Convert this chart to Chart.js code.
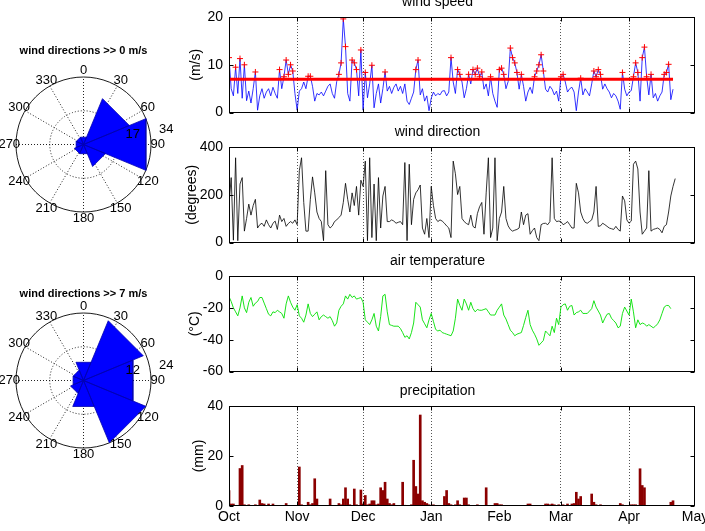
<!DOCTYPE html>
<html>
<head>
<meta charset="utf-8">
<script src="https://cdn.jsdelivr.net/npm/chart.js@4.4.1/dist/chart.umd.min.js"></script>
<style>
  html, body { margin: 0; padding: 0; background: #fff; overflow: hidden; width: 705px; height: 531px; }
  body { position: relative; }
  canvas { position: absolute; }
</style>
</head>
<body>
<canvas id="rose1" width="261" height="261" style="left:-47px;top:14px"></canvas>
<canvas id="rose2" width="261" height="261" style="left:-47px;top:250px"></canvas>
<canvas id="speed" width="545" height="135" style="left:180px;top:-8px"></canvas>
<canvas id="dir" width="545" height="135" style="left:180px;top:122px"></canvas>
<canvas id="temp" width="545" height="135" style="left:180px;top:251px"></canvas>
<canvas id="precip" width="545" height="151" style="left:180px;top:381px"></canvas>
<script>
// x axis: days since 1 Oct
const monthStarts = [0, 31, 61, 92, 123, 151, 182, 212];
const monthNames = ['Oct', 'Nov', 'Dec', 'Jan', 'Feb', 'Mar', 'Apr', 'May'];
const gridMonths = [31, 61, 92, 151, 182];

// daily values, index = day since 1 Oct
const speed = [
  11.5, 5, 3.5, 9.5, 4, 11.3, 3, 10, 2.5, 4.5,
  2, 5, 8.5, 0.5, 3.5, 5, 3, 4.3, 5, 3.5,
  5.3, 4, 3, 9, 5, 7.5, 11, 8, 10, 8.7,
  4, 0.5, 4.5, 5, 6.4, 5, 7.6, 7.6, 5.5, 2.4,
  4, 3.7, 4.3, 3.5, 4.5, 5.5, 6, 4, 3, 6.5,
  8, 10.4, 19.6, 13.8, 4, 2.4, 11, 10.4, 9, 3.5,
  13.1, 0.5, 8.4, 3.1, 6, 9.9, 1, 4, 6, 2,
  5, 8.5, 4.5, 5.5, 4, 5.3, 6, 4.5, 5.5, 4,
  6, 2.4, 1.7, 3, 4.3, 9, 11, 3.7, 5, 2.4,
  3.5, 0.4, 3, 4.3, 3.5, 4, 3.7, 4.5, 4.6, 3.5,
  4.3, 11.5, 6.4, 4, 9, 8, 6.4, 3.1, 5, 8,
  6, 9, 8, 9.3, 7.5, 8.5, 4.9, 6, 3.5, 7.5,
  4, 2.4, 1.1, 9, 9.3, 8, 5, 6.5, 13.5, 11.5,
  10.4, 8.4, 4.9, 8, 5.5, 2.4, 4.3, 5.3, 4, 7.5,
  8.7, 10, 12.1, 8.7, 4.9, 4.3, 5.5, 4.9, 3.7, 4.5,
  2.4, 7.5, 8, 6.4, 4.3, 5, 5.3, 4.3, 0.4, 4.3,
  7.2, 3.7, 5, 4.3, 3.5, 6, 8.7, 7.5, 9, 8,
  4.9, 6, 5, 4.3, 3.1, 4, 3.5, 2.4, 0.7, 8.4,
  4.9, 3.5, 4.3, 4.6, 7.5, 10.4, 8.4, 2.4, 11.5, 13.7,
  7.5, 3.7, 8, 3.1, 4, 2.4, 3.5, 4.3, 8, 8.4,
  10.1, 2.7, 4.9
];
const speedThreshold = 7;

const direction = [
  162, 272, 10, 355, 8, 245, 272, 48, 101, 161,
  115, 155, 181, 61, 75, 81, 68, 95, 75, 61,
  81, 90, 55, 115, 88, 101, 68, 80, 88, 81,
  95, 75, 301, 355, 168, 48, 48, 181, 275, 208,
  128, 101, 88, 8, 301, 75, 61, 70, 88, 95,
  105, 115, 168, 248, 181, 128, 208, 155, 235, 115,
  261, 235, 341, 8, 355, 21, 245, 8, 272, 61,
  195, 235, 88, 88, 95, 90, 81, 85, 88, 75,
  335, 8, 328, 75, 181, 208, 221, 241, 61, 35,
  101, 21, 235, 155, 101, 88, 95, 90, 81, 70,
  61, 21, 341, 288, 201, 235, 101, 88, 80, 75,
  115, 68, 61, 121, 150, 168, 35, 208, 355, 21,
  61, 355, 8, 101, 128, 235, 101, 70, 55, 48,
  52, 55, 61, 128, 75, 115, 121, 35, 50, 61,
  21, 8, 75, 80, 81, 75, 88, 355, 101, 88,
  90, 88, 75, 80, 88, 75, 61, 61, 248, 208,
  128, 101, 85, 81, 88, 95, 128, 235, 68, 70,
  81, 75, 68, 61, 58, 55, 68, 55, 48, 195,
  175, 95, 81, 90, 328, 341, 308, 128, 35, 48,
  61, 301, 48, 55, 58, 61, 55, 41, 68, 75,
  128, 195, 235, 268
];

const airTemp = [
  -13, -16, -20, -22.5, -25, -20, -12.5, -20, -23, -16.5,
  -13.5, -19, -17, -16, -13.5, -13.5, -17, -20.5, -24, -25,
  -22.5, -23, -21.5, -22.5, -23.5, -26.5, -17.5, -12.5, -16.5, -19.5,
  -21.5, -18, -25, -26.5, -29, -24.5, -17.5, -23.5, -25.5, -24,
  -22.5, -27.5, -25.5, -24.5, -25.5, -26.5, -25.5, -28, -31.5, -29.5,
  -21.5, -19, -17.5, -12.5, -14.5, -11.5, -13.5, -12.5, -14.5, -14,
  -13.5, -16.5, -27.5, -29, -30.5, -27.5, -23.5, -31.5, -34.5, -25.5,
  -12.5, -11.5, -22.5, -30.5, -31, -31.5, -31.5, -31.5, -33, -35.5,
  -38.5, -37.5, -39.5, -35.5, -29.5, -16.5, -18, -19.5, -27.5, -30,
  -32.5, -27.5, -23.5, -28.5, -33.5, -34.5, -34, -35.5, -36, -36.5,
  -37, -37.5, -34.5, -26.5, -14.5, -18.5, -21.5, -14.5, -17.5, -21.5,
  -16.5, -20.5, -22.5, -21, -21.5, -21.5, -21, -20.5, -22.5, -24.5,
  -24.5, -24.5, -21.5, -19.5, -17.5, -24.5, -27, -30.5, -34, -35.5,
  -37.5, -36.5, -36, -35.5, -31, -26, -21.5, -30.5, -34, -36.5,
  -39.5, -43.5, -42, -40.5, -34.5, -36, -37.5, -31.5, -35.5, -26.5,
  -30.5, -19.5, -18, -17.5, -21.5, -19, -18.5, -24.5, -23, -22.5,
  -21.5, -23.5, -23.5, -23.5, -22, -20.5, -15.5, -19.5, -22, -24.5,
  -29.5, -26.5, -24, -23.5, -26.5, -28, -29.5, -32.5, -31.5, -23.5,
  -19.5, -22, -24.5, -14.5, -22.5, -32.5, -27.5, -30.5, -29.5, -30,
  -31.5, -30.5, -31.5, -32.5, -31.5, -30, -27.5, -23.5, -19.5, -18.5,
  -18.5, -20.5
];

const precipitation = [
  6.2, 0.8, 0.8, 0, 0, 15, 16.2, 0.5, 0, 0.5,
  0, 0, 0.5, 0, 2.4, 1, 0.8, 0, 0.8, 0,
  0.8, 0, 0, 0, 0, 0, 1, 0, 0, 0,
  0, 0, 15.6, 0.5, 0, 0, 1.5, 0.5, 1, 10.9,
  2.8, 0, 0, 0, 0, 0, 2.8, 0, 0, 0,
  1, 0.5, 2.8, 7.3, 2.8, 0.5, 0, 6.8, 0.5, 0,
  6.4, 0.8, 4.2, 0.5, 0.8, 2.1, 2.1, 0.5, 0.8, 7.3,
  6.2, 9.5, 2.8, 1, 0.5, 1, 0, 0, 0, 9.5,
  0.3, 0, 0, 0.5, 18.3, 7.8, 4.8, 36.4, 2.1, 1.5,
  1, 0.5, 0, 0.5, 0, 0, 0, 0, 3.8, 6.2,
  1, 0.5, 0, 0.5, 2.1, 0.5, 0, 3.2, 3.2, 0.5,
  0, 0, 0, 0.5, 0, 0, 0, 7.3, 0, 0,
  0, 1, 1, 0.5, 0.5, 0, 0, 0, 0, 0,
  0, 0, 0, 0, 0, 0, 0.8, 0.8, 0, 0,
  0, 0, 0, 0, 0.8, 0.8, 0.5, 0.8, 0.5, 0,
  0.5, 0, 0.5, 0, 0.8, 0, 0.8, 1, 5.5, 2.8,
  3.8, 0, 0, 0, 0, 4.8, 1.5, 0.5, 0, 0.5,
  0, 0, 0, 0, 0, 0, 0, 0, 1, 0.5,
  0, 0, 0, 0.5, 0.5, 0.5, 0, 14.9, 8.2, 7.3,
  0, 0, 0, 0, 0, 0, 0, 0, 0, 0,
  0, 1.5, 2.1, 0
];

// wind roses: 8 sectors, centre bearing in degrees clockwise from north
const roseCentres = [0, 45, 90, 135, 180, 225, 270, 315];
const roseHalfWidth = 22.5;
const roseAll = [4, 25, 34, 12, 5, 5, 4, 4];
const roseStrong = [7, 23, 19, 24, 10, 5, 4, 4];
const roseRingsAll = [17, 34];
const roseRingsStrong = [12, 24];
const roseAngles = [0, 30, 60, 90, 120, 150, 180, 210, 240, 270, 300, 330];

const FONT = '"Liberation Sans", Arial, Helvetica, sans-serif';
Chart.defaults.font.family = FONT;
Chart.defaults.font.size = 14;
Chart.defaults.color = '#000';
Chart.defaults.animation = false;
Chart.defaults.responsive = false;
Chart.defaults.devicePixelRatio = 1;
Chart.defaults.plugins.legend.display = false;
Chart.defaults.plugins.tooltip.enabled = false;

const xy = arr => arr.map((v, i) => ({ x: i, y: v }));

// box + inward ticks on all four sides
const matlabAxes = {
  id: 'matlabAxes',
  afterDraw(chart) {
    const { ctx, chartArea: a, scales: { x, y } } = chart;
    const L = Math.round(a.left) + 0.5, R = Math.round(a.right) - 0.5;
    const T = Math.round(a.top) + 0.5, B = Math.round(a.bottom) - 0.5;
    ctx.save();
    ctx.strokeStyle = '#000';
    ctx.lineWidth = 1;
    ctx.strokeRect(L, T, R - L, B - T);
    ctx.beginPath();
    x.ticks.forEach(t => {
      if (!gridMonths.includes(t.value)) return;
      const px = Math.round(x.getPixelForValue(t.value)) + 0.5;
      ctx.moveTo(px, B); ctx.lineTo(px, B - 4);
      ctx.moveTo(px, T); ctx.lineTo(px, T + 4);
    });
    y.ticks.forEach(t => {
      const py = Math.round(y.getPixelForValue(t.value)) + 0.5;
      ctx.moveTo(L, py); ctx.lineTo(L + 4, py);
      ctx.moveTo(R, py); ctx.lineTo(R - 4, py);
    });
    ctx.stroke();
    ctx.restore();
  }
};

function panel(id, type, title, yTitle, yMin, yMax, yStep, titlePad, showMonths, datasets) {
  return new Chart(document.getElementById(id), {
    type,
    data: { datasets },
    options: {
      layout: { padding: { top: 3, right: 30, left: 0, bottom: 0 } },
      plugins: {
        title: {
          display: true, text: title,
          font: { size: 14, weight: 'normal', lineHeight: 1 },
          padding: { top: 0, bottom: 8 }
        }
      },
      elements: { point: { radius: 0 }, line: { tension: 0 } },
      scales: {
        x: {
          type: 'linear', min: 0, max: 212, offset: false,
          afterBuildTicks: s => { s.ticks = monthStarts.map(v => ({ value: v })); },
          afterFit: s => { s.height = showMonths ? 26 : 10; },
          ticks: {
            display: showMonths, autoSkip: false, maxRotation: 0, padding: 3,
            callback: v => monthNames[monthStarts.indexOf(v)]
          },
          grid: {
            offset: false, drawTicks: false, lineWidth: 1,
            color: c => (c.tick && gridMonths.includes(c.tick.value)) ? '#555' : 'rgba(0,0,0,0)'
          },
          border: { display: false, dash: [1, 2] }
        },
        y: {
          min: yMin, max: yMax,
          afterFit: s => { s.width = 49; },
          ticks: { stepSize: yStep, padding: 6 },
          grid: { display: false, drawTicks: false },
          border: { display: false },
          title: { display: true, text: yTitle, padding: { top: titlePad, bottom: 0 } }
        }
      }
    },
    plugins: [matlabAxes]
  });
}

const lastDay = speed.length - 1;
panel('speed', 'line', 'wind speed', '(m/s)', 0, 20, 10, 8, false, [
  { data: [{ x: 0, y: speedThreshold }, { x: lastDay, y: speedThreshold }], borderColor: '#ff0000', borderWidth: 3 },
  {
    data: xy(speed).filter(p => p.y > speedThreshold), showLine: false,
    pointStyle: 'cross', pointRadius: 3, pointBorderColor: '#ff0000', pointBorderWidth: 1
  },
  { data: xy(speed), borderColor: '#0000ff', borderWidth: 0.8 }
]);

panel('dir', 'line', 'wind direction', '(degrees)', 0, 400, 200, 3.6, false, [
  { data: xy(direction), borderColor: '#000000', borderWidth: 0.8 }
]);

panel('temp', 'line', 'air temperature', '(°C)', -60, 0, 20, 6.6, false, [
  { data: xy(airTemp), borderColor: '#00e000', borderWidth: 0.9 }
]);

panel('precip', 'bar', 'precipitation', '(mm)', 0, 40, 20, 11, true, [
  { data: xy(precipitation).filter(p => p.y > 0), backgroundColor: '#8b0000', barThickness: 2 }
]);

// polar grid, labels and title for the roses
const polarGrid = {
  id: 'polarGrid',
  beforeDatasetsDraw(chart, args, opts) {
    const { ctx, scales: { x, y } } = chart;
    const cx = x.getPixelForValue(0), cy = y.getPixelForValue(0);
    const rmax = opts.rings[opts.rings.length - 1];
    const R = x.getPixelForValue(rmax) - cx;
    ctx.save();
    ctx.strokeStyle = '#222';
    ctx.lineWidth = 1;
    ctx.setLineDash([1, 2]);
    opts.rings.slice(0, -1).forEach(r => {
      const rp = x.getPixelForValue(r) - cx;
      ctx.beginPath(); ctx.arc(cx, cy, rp, 0, 2 * Math.PI); ctx.stroke();
    });
    for (let a = 0; a < 180; a += 30) {
      const t = a * Math.PI / 180;
      ctx.beginPath();
      ctx.moveTo(cx - R * Math.sin(t), cy + R * Math.cos(t));
      ctx.lineTo(cx + R * Math.sin(t), cy - R * Math.cos(t));
      ctx.stroke();
    }
    ctx.setLineDash([]);
    ctx.strokeStyle = '#000';
    ctx.lineWidth = 0.9;
    ctx.beginPath(); ctx.arc(cx, cy, R, 0, 2 * Math.PI); ctx.stroke();
    ctx.restore();
  },
  afterDatasetsDraw(chart, args, opts) {
    const { ctx, scales: { x, y } } = chart;
    const cx = x.getPixelForValue(0), cy = y.getPixelForValue(0);
    const rmax = opts.rings[opts.rings.length - 1];
    const R = x.getPixelForValue(rmax) - cx;
    ctx.save();
    ctx.fillStyle = '#000';
    ctx.font = '13px ' + FONT;
    ctx.textAlign = 'center';
    ctx.textBaseline = 'middle';
    roseAngles.forEach(a => {
      const t = a * Math.PI / 180;
      ctx.fillText(String(a), cx + 1.1 * R * Math.sin(t), cy - 1.1 * R * Math.cos(t));
    });
    const rinc = opts.rings[0];
    const t82 = 82 * Math.PI / 180;
    ctx.textAlign = 'left';
    ctx.textBaseline = 'bottom';
    opts.rings.forEach(r => {
      const rp = x.getPixelForValue(r + rinc / 20) - cx;
      ctx.fillText(String(r), cx + rp * Math.sin(t82) + 7, cy - rp * Math.cos(t82) + 1);
    });
    ctx.font = 'bold 11px ' + FONT;
    ctx.textAlign = 'center';
    ctx.textBaseline = 'middle';
    ctx.fillText(opts.title, cx, cy - opts.titleOffset);
    ctx.restore();
  }
};

function rosePoints(bins) {
  const pts = [{ x: 0, y: 0 }];
  bins.forEach((r, k) => {
    const a1 = (roseCentres[k] - roseHalfWidth) * Math.PI / 180;
    const a2 = (roseCentres[k] + roseHalfWidth) * Math.PI / 180;
    pts.push({ x: r * Math.sin(a1), y: r * Math.cos(a1) });
    pts.push({ x: r * Math.sin(a2), y: r * Math.cos(a2) });
    pts.push({ x: 0, y: 0 });
  });
  return pts;
}

function rose(id, title, bins, rings, titleOffset) {
  const rmax = rings[rings.length - 1];
  const lim = rmax * 130.5 / 67.5;
  return new Chart(document.getElementById(id), {
    type: 'scatter',
    data: {
      datasets: [{
        data: rosePoints(bins), showLine: true, fill: 'shape',
        backgroundColor: '#0000ff', borderColor: '#0000b0', borderWidth: 0.8, pointRadius: 0
      }]
    },
    options: {
      layout: { padding: 0 },
      scales: {
        x: { type: 'linear', min: -lim, max: lim, display: false },
        y: { type: 'linear', min: -lim, max: lim, display: false }
      },
      plugins: { polarGrid: { rings, title, titleOffset } }
    },
    plugins: [polarGrid]
  });
}

rose('rose1', 'wind directions >> 0 m/s', roseAll, roseRingsAll, 94);
rose('rose2', 'wind directions >> 7 m/s', roseStrong, roseRingsStrong, 87);
</script>
</body>
</html>
